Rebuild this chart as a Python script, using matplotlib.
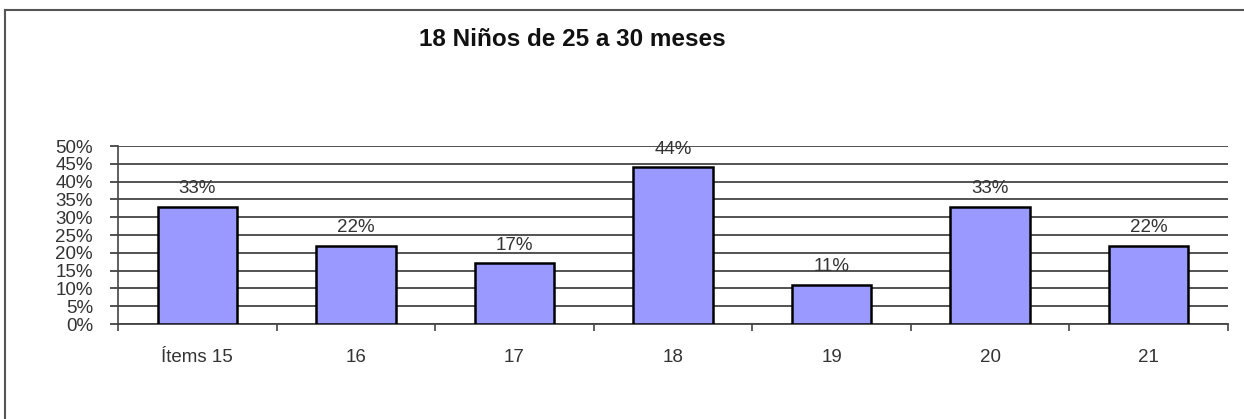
import matplotlib.pyplot as plt
from matplotlib.lines import Line2D
import numpy as np

plt.rcParams['font.family'] = ['Liberation Sans', 'DejaVu Sans']

# === Datos ===
categorias = ["Ítems 15", "16", "17", "18", "19", "20", "21"]
valores = [33, 22, 17, 44, 11, 33, 22]
etiquetas = ["33%", "22%", "17%", "44%", "11%", "33%", "22%"]
ticks_y = [0, 5, 10, 15, 20, 25, 30, 35, 40, 45, 50]

fig = plt.figure(figsize=(12.44, 4.19), dpi=100)
ax = fig.add_axes([0.0949, 0.2267, 0.8922, 0.4248])

x = np.arange(len(categorias))
ax.bar(x, valores, width=0.5, color="#9999FF", edgecolor="black", linewidth=1.8, zorder=3)

for xi, v, t in zip(x, valores, etiquetas):
    ax.annotate(t, (xi, v), xytext=(0, 7), textcoords="offset points",
                ha="center", va="bottom", fontsize=13.5, color="#333333", zorder=4)

ax.set_xlim(-0.5, len(categorias) - 0.5)
ax.set_ylim(0, 50)
ax.set_yticks(ticks_y)
ax.set_yticklabels([f"{t}%" for t in ticks_y], fontsize=13.5, color="#333333")
ax.yaxis.grid(True, color="#444444", linewidth=1.3, zorder=0)

# ticks del eje x entre categorías
ax.set_xticks(np.arange(len(categorias) + 1) - 0.5)
ax.set_xticklabels([])
ax.set_xticks(x, minor=True)
ax.set_xticklabels(categorias, minor=True, fontsize=13.5, color="#333333")
ax.tick_params(axis="x", which="major", length=5, width=1.2, color="#444444", direction="out")
ax.tick_params(axis="x", which="minor", length=0, pad=18)
ax.tick_params(axis="y", length=6, width=1.3, color="#444444", pad=12)

for s in ["top", "right"]:
    ax.spines[s].set_visible(False)
ax.spines["left"].set_color("#444444")
ax.spines["left"].set_linewidth(1.2)
ax.spines["bottom"].set_color("#444444")
ax.spines["bottom"].set_linewidth(1.3)

fig.text(0.46, 0.905, "18 Niños de 25 a 30 meses", ha="center", va="center",
         fontsize=17.5, fontweight="bold", color="#111111")

# marco de la figura (arriba e izquierda)
fig.add_artist(Line2D([0.004, 1.0], [0.976, 0.976], color="#555555", linewidth=1.5))
fig.add_artist(Line2D([0.004, 0.004], [0.0, 0.976], color="#555555", linewidth=1.5))

fig.savefig("out.png", dpi=100)
